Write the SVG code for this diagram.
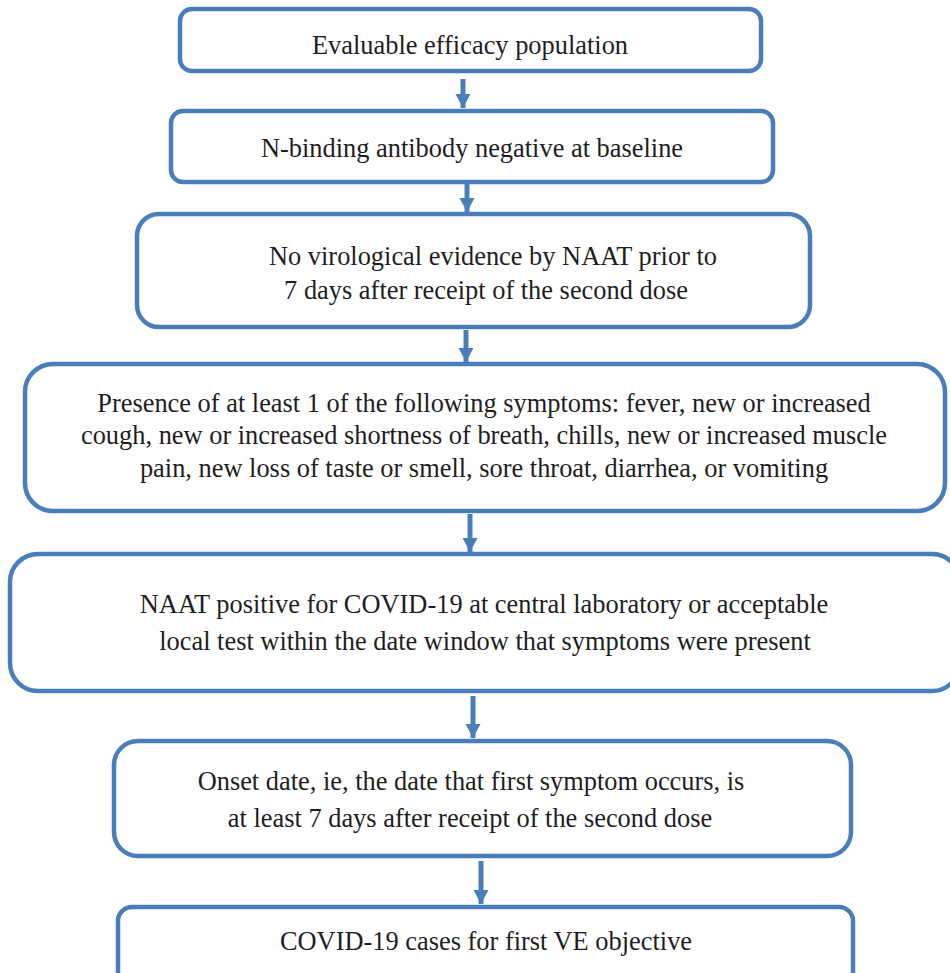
<svg xmlns="http://www.w3.org/2000/svg" width="950" height="973" viewBox="0 0 950 973">
  <defs>
    <marker id="arrow" markerUnits="userSpaceOnUse" markerWidth="16" markerHeight="16" refX="14" refY="7.5" orient="auto">
      <path d="M0,0 L14,7.5 L0,15 Z" fill="#4a7ebb"/>
    </marker>
    <style>
      .box { fill: #ffffff; stroke: #4a7ebb; stroke-width: 4.5; }
      .lbl { font-family: "Liberation Serif", "Times New Roman", serif; font-size: 26.4px; fill: #1e1e1e; text-anchor: middle; }
      .conn { stroke: #4a7ebb; stroke-width: 5; fill: none; marker-end: url(#arrow); }
    </style>
  </defs>
  <rect width="950" height="973" fill="#ffffff"/>

  <g id="connectors">
    <line class="conn" x1="463" y1="79" x2="463" y2="108"/>
    <line class="conn" x1="467" y1="183" x2="467" y2="212"/>
    <line class="conn" x1="466" y1="330" x2="466" y2="362"/>
    <line class="conn" x1="470" y1="514" x2="470" y2="552"/>
    <line class="conn" x1="473" y1="696" x2="473" y2="738"/>
    <line class="conn" x1="481" y1="861" x2="481" y2="904"/>
  </g>

  <g id="node1">
    <rect class="box" x="180" y="9" width="581" height="62" rx="12"/>
    <text class="lbl" x="470" y="54">Evaluable efficacy population</text>
  </g>
  <g id="node2">
    <rect class="box" x="171" y="111" width="602" height="71" rx="12"/>
    <text class="lbl" x="472" y="157">N-binding antibody negative at baseline</text>
  </g>
  <g id="node3">
    <rect class="box" x="137" y="214" width="673" height="113" rx="22"/>
    <text class="lbl" x="493" y="265">No virological evidence by NAAT prior to</text>
    <text class="lbl" x="486" y="299">7 days after receipt of the second dose</text>
  </g>
  <g id="node4">
    <rect class="box" x="25" y="364" width="920" height="147" rx="28"/>
    <text class="lbl" x="484" y="412">Presence of at least 1 of the following symptoms: fever, new or increased</text>
    <text class="lbl" x="484" y="444">cough, new or increased shortness of breath, chills, new or increased muscle</text>
    <text class="lbl" x="484" y="477">pain, new loss of taste or smell, sore throat, diarrhea, or vomiting</text>
  </g>
  <g id="node5">
    <rect class="box" x="10" y="554" width="950" height="137" rx="28"/>
    <text class="lbl" x="484" y="613">NAAT positive for COVID-19 at central laboratory or acceptable</text>
    <text class="lbl" x="485" y="650">local test within the date window that symptoms were present</text>
  </g>
  <g id="node6">
    <rect class="box" x="114" y="741" width="737" height="115" rx="24"/>
    <text class="lbl" x="471" y="790">Onset date, ie, the date that first symptom occurs, is</text>
    <text class="lbl" x="470" y="827">at least 7 days after receipt of the second dose</text>
  </g>
  <g id="node7">
    <rect class="box" x="118" y="907" width="735" height="85" rx="14"/>
    <text class="lbl" x="486" y="950">COVID-19 cases for first VE objective</text>
  </g>
</svg>
